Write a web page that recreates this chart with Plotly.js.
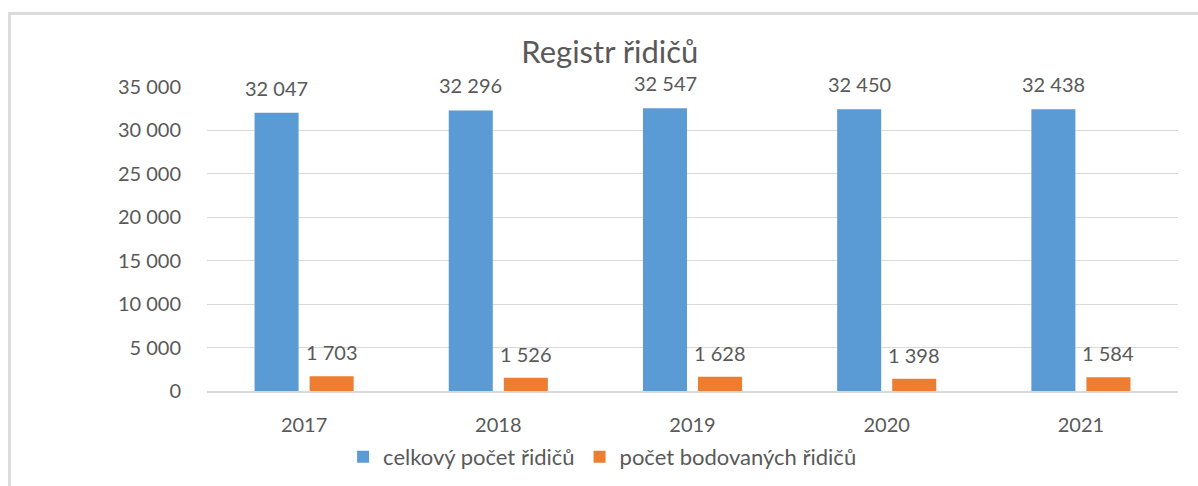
<!DOCTYPE html>
<html>
<head>
<meta charset="utf-8">
<script src="https://cdn.plot.ly/plotly-3.0.1.min.js"></script>
<style>
  html, body { margin: 0; padding: 0; background: #fff; }
  #wrap { position: relative; width: 1198px; height: 486px; overflow: hidden; }
  #chart { position: absolute; left: 0; top: 0; width: 1198px; height: 486px; }
  #frame { position: absolute; left: 8px; top: 12px; width: 1300px; height: 600px;
           border-left: 3px solid #dcdcdc; border-top: 3px solid #dcdcdc; pointer-events: none; }
</style>
</head>
<body>
<div id="wrap">
  <div id="chart"></div>
  <div id="frame"></div>
</div>
<script>
const years = ['2017', '2018', '2019', '2020', '2021'];
const totalDrivers = [32047, 32296, 32547, 32450, 32438];
const pointedDrivers = [1703, 1526, 1628, 1398, 1584];
const seriesNames = ['celkový počet řidičů', 'počet bodovaných řidičů'];
const yTicks = [0, 5000, 10000, 15000, 20000, 25000, 30000, 35000];

const fmt = v => String(v).replace(/\B(?=(\d{3})+(?!\d))/g, ' ');
const textColor = '#595959';
const font = 'Lato, "Open Sans", sans-serif';

const traces = [
  { type: 'bar', name: seriesNames[0], x: years, y: totalDrivers,
    marker: { color: '#5B9BD5' }, hoverinfo: 'none' },
  { type: 'bar', name: seriesNames[1], x: years, y: pointedDrivers,
    marker: { color: '#ED7D31' }, hoverinfo: 'none' }
];

const annotations = [];
years.forEach((yr, i) => {
  annotations.push({ x: i, y: totalDrivers[i], xref: 'x', yref: 'y', text: fmt(totalDrivers[i]),
    showarrow: false, xshift: -27.5, yshift: 25, yanchor: 'middle',
    font: { family: font, size: 20, color: textColor } });
  annotations.push({ x: i, y: pointedDrivers[i], xref: 'x', yref: 'y', text: fmt(pointedDrivers[i]),
    showarrow: false, xshift: 27.5, yshift: 24, yanchor: 'middle',
    font: { family: font, size: 20, color: textColor } });
});

const layout = {
  width: 1198, height: 486,
  margin: { l: 207, r: 20, t: 87, b: 95 },
  paper_bgcolor: '#ffffff', plot_bgcolor: '#ffffff',
  font: { family: font, color: textColor, size: 20 },
  title: { text: 'Registr řidičů', x: 0.509, xanchor: 'center', y: 0.892, yanchor: 'middle',
           font: { family: font, size: 31, color: textColor } },
  barmode: 'group', bargap: 0.433, bargroupgap: 0.2,
  xaxis: { type: 'category', range: [-0.5, years.length - 0.5], autorange: false,
           showgrid: false, showline: true, linecolor: '#d9d9d9', linewidth: 1.5,
           ticks: 'outside', ticklen: 15, tickcolor: 'rgba(0,0,0,0)',
           tickfont: { family: font, size: 20, color: textColor } },
  yaxis: { range: [0, 35000], autorange: false, tickmode: 'array', tickvals: yTicks, ticktext: yTicks.map(fmt), showgrid: true,
           gridcolor: '#d9d9d9', gridwidth: 1, zeroline: false, showline: false,
           ticks: 'outside', ticklen: 21, tickcolor: 'rgba(0,0,0,0)',
           tickfont: { family: font, size: 20, color: textColor } },
  showlegend: true,
  legend: { orientation: 'h', xref: 'container', yref: 'container', x: 0.503, xanchor: 'center',
            y: 0.06, yanchor: 'middle',
            font: { family: font, size: 22, color: textColor }, traceorder: 'normal' },
  annotations: annotations
};

Plotly.newPlot('chart', traces, layout, { staticPlot: true, displayModeBar: false });
</script>
</body>
</html>
